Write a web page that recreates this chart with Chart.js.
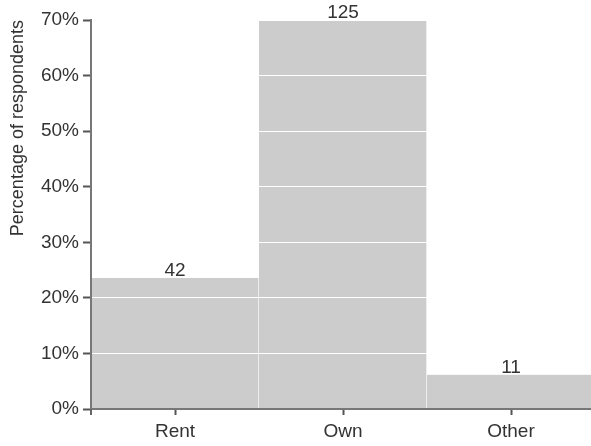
<!DOCTYPE html>
<html>
<head>
<meta charset="utf-8">
<script src="https://cdn.jsdelivr.net/npm/chart.js@4.4.1/dist/chart.umd.min.js"></script>
<style>
html,body{margin:0;padding:0;background:#fff;overflow:hidden;}
#wrap{width:591px;height:446px;overflow:hidden;}
</style>
</head>
<body>
<div id="wrap"><canvas id="c" width="595" height="446"></canvas></div>
<script>
const categories = ["Rent", "Own", "Other"];
const counts = [42, 125, 11];
const yTicks = [0, 10, 20, 30, 40, 50, 60, 70];
const yTitle = "Percentage of respondents";

const total = counts.reduce((a, b) => a + b, 0);
const percents = counts.map(c => c / total * 100);

const FONT = '"Liberation Sans", Arial, sans-serif';

const labelPlugin = {
  id: 'countLabels',
  afterDatasetsDraw(chart) {
    const ctx = chart.ctx;
    const meta = chart.getDatasetMeta(0);
    ctx.save();
    ctx.font = '19px ' + FONT;
    ctx.fillStyle = '#333';
    ctx.textAlign = 'center';
    ctx.textBaseline = 'alphabetic';
    meta.data.forEach((bar, i) => {
      ctx.fillText(String(counts[i]), bar.x, Math.max(bar.y, chart.chartArea.top) - 2);
    });
    ctx.restore();
  },
  afterDraw(chart) {
    const ctx = chart.ctx;
    const a = chart.chartArea;
    ctx.save();
    ctx.strokeStyle = '#666';
    ctx.lineWidth = 2;
    ctx.beginPath();
    ctx.moveTo(a.left, a.bottom);
    ctx.lineTo(a.left, a.bottom + 6);
    ctx.stroke();
    ctx.restore();
  }
};

new Chart(document.getElementById('c'), {
  type: 'bar',
  data: {
    labels: categories,
    datasets: [{
      data: percents,
      backgroundColor: '#cccccc',
      borderColor: '#ffffff',
      borderWidth: {left: 0, right: 1, top: 0, bottom: 0},
      borderSkipped: false,
      categoryPercentage: 1,
      barPercentage: 1
    }]
  },
  options: {
    responsive: false,
    animation: false,
    layout: {padding: {top: 20, right: 0, left: 1, bottom: 0}},
    plugins: {legend: {display: false}, tooltip: {enabled: false}},
    scales: {
      x: {
        offset: true,
        border: {color: '#777', width: 2, z: 2},
        grid: {offset: false, drawOnChartArea: false, drawTicks: true, tickLength: 6, tickColor: '#555', tickWidth: 2},
        ticks: {color: '#333', font: {family: FONT, size: 19}, padding: 5, maxRotation: 0},
        afterFit(s) { s.height = 37; }
      },
      y: {
        min: 0, max: 70,
        afterBuildTicks(s) { s.ticks = yTicks.map(v => ({value: v})); },
        border: {color: '#777', width: 2, z: 2},
        grid: {color: '#ffffff', lineWidth: 1, z: 1, drawTicks: true, tickLength: 8, tickColor: '#555', tickWidth: 2},
        ticks: {color: '#333', font: {family: FONT, size: 19}, padding: 4, callback: v => v + '%'},
        title: {display: true, text: yTitle, align: 'end', color: '#333', font: {family: FONT, size: 18}, padding: {top: 6, bottom: 4}},
        afterFit(s) { s.width = 90; }
      }
    }
  },
  plugins: [labelPlugin]
});
</script>
</body>
</html>
